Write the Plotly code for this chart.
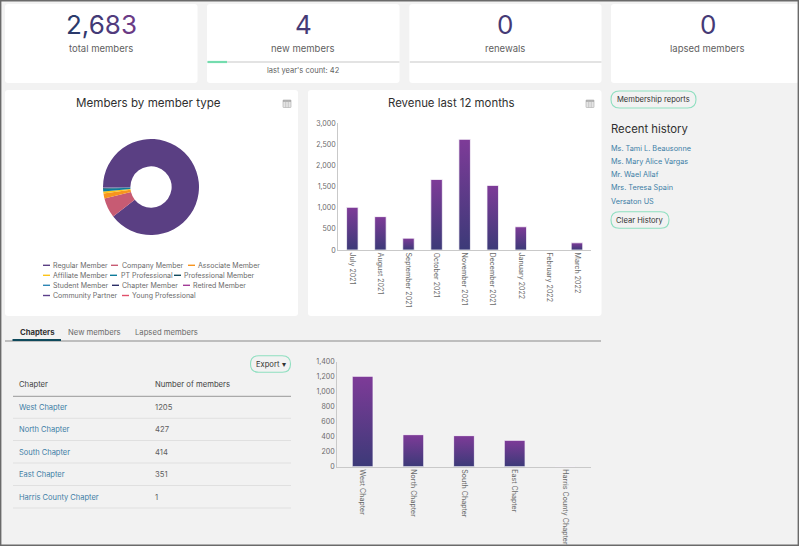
import plotly.graph_objects as go

W, H = 799, 546
FONT = "Inter"

# ---- data ----
member_types = ["Regular Member", "Company Member", "Associate Member", "Affiliate Member",
                "PT Professional", "Professional Member", "Student Member", "Chapter Member",
                "Retired Member", "Community Partner", "Young Professional"]
member_counts = [2400, 179, 45, 20, 24, 5, 3, 2, 2, 2, 1]
member_colors = ["#5a3f83", "#c75b73", "#f7941e", "#fcc419", "#0e7c9b", "#124a5e",
                 "#2e86b5", "#2b2f66", "#a23c97", "#5b3f8a", "#e0506b"]

months = ["July 2021", "August 2021", "September 2021", "October 2021", "November 2021",
          "December 2021", "January 2022", "February 2022", "March 2022"]
revenue = [1010, 790, 280, 1670, 2620, 1530, 550, 0, 170]

chapters = ["West Chapter", "North Chapter", "South Chapter", "East Chapter", "Harris County Chapter"]
chapter_members = [1205, 427, 414, 351, 1]

kpi_values = ["0", "0"]
history = ["Ms. Tami L. Beausonne", "Ms. Mary Alice Vargas", "Mr. Wael Allaf",
           "Mrs. Teresa Spain", "Versaton US"]
tabs = ["Chapters", "New members", "Lapsed members"]


def px(x):
    return x / W


def py(y):
    return 1 - y / H


shapes, annots = [], []


def text(x, y, s, size=8, color="#555555", anchor="left"):
    annots.append(dict(x=px(x), y=py(y), xref="paper", yref="paper", text=s, showarrow=False,
                       xanchor=anchor, yanchor="middle", borderpad=0, borderwidth=0,
                       font=dict(family=FONT, size=size, color=color)))


def rrect(x0, y0, x1, y1, r=3, fill="#ffffff", line=None, lw=1):
    X0, X1, Y0, Y1 = px(x0), px(x1), py(y0), py(y1)
    rx, ry = r / W, r / H
    path = (f"M {X0+rx} {Y0} L {X1-rx} {Y0} Q {X1} {Y0} {X1} {Y0-ry} L {X1} {Y1+ry} "
            f"Q {X1} {Y1} {X1-rx} {Y1} L {X0+rx} {Y1} Q {X0} {Y1} {X0} {Y1+ry} "
            f"L {X0} {Y0-ry} Q {X0} {Y0} {X0+rx} {Y0} Z")
    shapes.append(dict(type="path", path=path, xref="paper", yref="paper", fillcolor=fill,
                       line=dict(color=line or fill, width=lw if line else 0), layer="below"))


def hline(x0, x1, y, color, lw=1):
    shapes.append(dict(type="line", x0=px(x0), x1=px(x1), y0=py(y), y1=py(y), xref="paper",
                       yref="paper", line=dict(color=color, width=lw), layer="below"))


def vline(x, y0, y1, color, lw=1):
    shapes.append(dict(type="line", x0=px(x), x1=px(x), y0=py(y0), y1=py(y1), xref="paper",
                       yref="paper", line=dict(color=color, width=lw), layer="below"))


def table_icon(x, y):
    c = "#b5b5b5"
    rrect(x, y, x + 8, y + 7.5, r=0.5, fill="#e4e4e4", line=c, lw=0.7)
    hline(x, x + 8, y + 1, "#999999", 1.2)
    vline(x + 2.7, y, y + 7.5, c, 0.6)
    vline(x + 5.3, y, y + 7.5, c, 0.6)


def button(x0, y0, x1, y1, s, size=7.6):
    rrect(x0, y0, x1, y1, r=(y1 - y0) / 2, fill="#f2f2f2", line="#8fdfc0", lw=1.1)
    text((x0 + x1) / 2, (y0 + y1) / 2, s, size, "#333333", "center")


# ---- KPI cards ----
for x0, x1 in [(5, 197.5), (207, 399.5), (409.3, 601.5), (611, 799)]:
    rrect(x0, 4, x1, 83)

# ---- window border ----
vline(0.7, 0, H, "#6a6a6a", 1.4)
vline(798.3, 0, H, "#6a6a6a", 1.4)
hline(0, W, 0.7, "#6a6a6a", 1.4)
hline(0, W, 545.3, "#6a6a6a", 1.4)

big = 26
hue = ["#2b3a6b", "#33396f", "#423a76", "#523b7d", "#6a3a85"]
s2683 = "".join(f'<span style="color:{c}">{ch}</span>' for ch, c in zip("2,683", hue))
text(101, 24.5, s2683, big, "#3f3a72", "center")
text(303, 24.5, "4", big, "#453a76", "center")
text(505.3, 24.5, kpi_values[0], big, "#453a76", "center")
text(707.5, 24.5, kpi_values[1], big, "#453a76", "center")
text(101, 48, "total members", 9.5, "#5f5f5f", "center")
text(303, 48, "new members", 9.5, "#5f5f5f", "center")
text(505.3, 48, "renewals", 9.5, "#5f5f5f", "center")
text(707.5, 48, "lapsed members", 9.5, "#5f5f5f", "center")
hline(207.5, 399.5, 62, "#e3e3e3", 2.2)
hline(207.5, 227, 62, "#74dcae", 2.2)
hline(409.8, 601.5, 62, "#e3e3e3", 2.2)
text(303, 71, "last year's count: 42", 7.5, "#5f5f5f", "center")

# ---- chart cards ----
rrect(5, 90, 298, 316)
rrect(308, 90, 601.5, 316)
text(148, 103.3, "Members by member type", 11.6, "#2f2f2f", "center")
text(451, 103.3, "Revenue last 12 months", 11.4, "#2f2f2f", "center")
table_icon(283, 100)
table_icon(586, 100)

# legend for the donut
legend_layout = [
    (43, 52.7, 265.3), (111, 121.7, 265.3), (188, 198, 265.3),
    (43, 52.7, 275.3), (110, 120.7, 275.3), (174, 183.7, 275.3),
    (43, 52.7, 285.3), (112, 122, 285.3), (183, 192.7, 285.3),
    (43, 52.7, 295.5), (122, 131.7, 295.5),
]
for (sx, tx, y), name, col in zip(legend_layout, member_types, member_colors):
    hline(sx, sx + 7, y, col, 1.4)
    text(tx, y, name, 7, "#6a6a6a")

# ---- right column ----
button(611, 91, 696, 108, "Membership reports")
text(611, 129, "Recent history", 11.3, "#2f2f2f")
for y, name in zip([148.3, 161.3, 174.7, 187.7, 201], history):
    text(611, y, name, 7.3, "#3d7ea6")
button(611, 211.7, 669, 228.3, "Clear History")

# ---- tabs ----
hline(5, 601, 341, "#8a8a8a", 1)
hline(12.5, 61, 340, "#0f4a5c", 2)
for x, name, col in zip([20, 68, 135], tabs, ["#333333", "#6a6a6a", "#6a6a6a"]):
    text(x, 332, f"<b>{name}</b>" if name == tabs[0] else name, 7.7, col)

# ---- chapter table ----
button(250.5, 355.7, 290.5, 372.3, "Export ▾")
text(19, 384.7, "Chapter", 7.7, "#444444")
text(155, 384.7, "Number of members", 7.7, "#444444")
hline(13, 291, 396.3, "#aaaaaa", 1.3)
row_y = [407.7, 429.7, 452.3, 474.3, 497]
rule_y = [418.3, 440.5, 463, 485.5, 508]
for y, ry, name, n in zip(row_y, rule_y, chapters, chapter_members):
    text(19, y, name, 7.5, "#3d7ea6")
    text(155, y, str(n), 7.7, "#5f5f5f")
    hline(13, 291, ry, "#e0e0e0", 1)

# ---- traces ----
BAR_LINE = dict(color="rgba(255,255,255,0.75)", width=1)
fig = go.Figure()
fig.add_trace(go.Pie(labels=member_types, values=member_counts, hole=0.43, sort=False,
                     direction="clockwise", rotation=270, textinfo="none", showlegend=False,
                     marker=dict(colors=member_colors, line=dict(width=0)),
                     domain=dict(x=[px(103), px(199)], y=[py(235), py(139)])))
fig.add_trace(go.Bar(x=months, y=revenue, xaxis="x", yaxis="y", width=0.41,
                     marker=dict(color="#5a3c88", line=BAR_LINE), showlegend=False))
fig.add_trace(go.Bar(x=chapters, y=chapter_members, xaxis="x2", yaxis="y2", width=0.41,
                     marker=dict(color="#5a3c88", line=BAR_LINE), showlegend=False))

tickfont = dict(family=FONT, size=7.1, color="#6a6a6a")
AXL = dict(showline=True, linecolor="#c9c9c9", linewidth=1.3, showgrid=False, zeroline=False,
           ticks="", tickfont=tickfont, automargin=False)

fig.update_layout(
    width=W, height=H, autosize=False,
    margin=dict(l=0, r=0, t=0, b=0, autoexpand=False),
    paper_bgcolor="#f2f2f2", plot_bgcolor="rgba(0,0,0,0)",
    font=dict(family=FONT),
    shapes=shapes, annotations=annots, showlegend=False,
    xaxis=dict(domain=[px(338.3), px(591)], anchor="y", type="category", tickangle=90, **AXL),
    yaxis=dict(domain=[py(250), py(123.3)], anchor="x", range=[0, 3000], dtick=500,
               tickformat=",", **AXL),
    xaxis2=dict(domain=[px(337.3), px(590.7)], anchor="y2", type="category", tickangle=90, **AXL),
    yaxis2=dict(domain=[py(466.7), py(361.7)], anchor="x2", range=[0, 1400], dtick=200,
                tickformat=",", **AXL),
)

post = """
document.body.style.margin='0';
document.body.style.overflow='hidden';
var gd=document.getElementById('{plot_id}');
var svg=gd.querySelector('.main-svg');
var NS='http://www.w3.org/2000/svg';
var defs=svg.querySelector('defs')||svg.appendChild(document.createElementNS(NS,'defs'));
var g=document.createElementNS(NS,'linearGradient');
g.setAttribute('id','barGrad');g.setAttribute('x1','0');g.setAttribute('y1','0');
g.setAttribute('x2','0');g.setAttribute('y2','1');
[['0','#7e3b98'],['1','#3c3a78']].forEach(function(c){
  var s=document.createElementNS(NS,'stop');
  s.setAttribute('offset',c[0]);s.setAttribute('stop-color',c[1]);g.appendChild(s);});
defs.appendChild(g);
gd.querySelectorAll('.bars .point path').forEach(function(p){p.style.fill='url(#barGrad)';});
"""
fig.write_html("out.html", post_script=post, config=dict(displayModeBar=False))
